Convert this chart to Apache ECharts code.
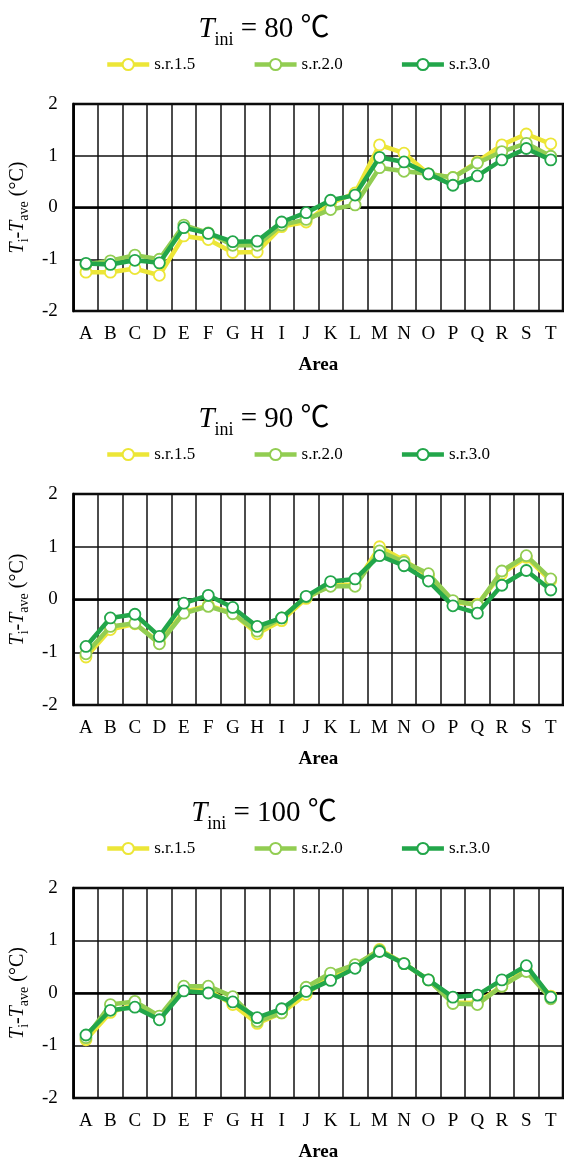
<!DOCTYPE html>
<html><head><meta charset="utf-8">
<script src="https://cdn.jsdelivr.net/npm/echarts@6/dist/echarts.min.js"></script>
<style>html,body{margin:0;padding:0;background:#fff}#c{width:564px;height:1163px}</style>
</head><body><div id="c"></div><script>
const categories = ['A','B','C','D','E','F','G','H','I','J','K','L','M','N','O','P','Q','R','S','T'];
const seriesNames = ['s.r.1.5', 's.r.2.0', 's.r.3.0'];
const tiniValues = ['80', '90', '100'];
const yMin = -2, yMax = 2, yStep = 1;

// T_ini = 80 ℃
const t80_sr15 = [-1.25,-1.25,-1.18,-1.31,-0.55,-0.62,-0.87,-0.86,-0.37,-0.28,0.08,0.28,1.21,1.05,0.65,0.58,0.88,1.21,1.42,1.23];
const t80_sr20 = [-1.10,-1.03,-0.92,-1.00,-0.34,-0.49,-0.73,-0.73,-0.34,-0.23,-0.04,0.05,0.77,0.70,0.65,0.58,0.86,1.08,1.24,0.99];
const t80_sr30 = [-1.08,-1.10,-1.02,-1.07,-0.39,-0.50,-0.66,-0.65,-0.28,-0.10,0.14,0.24,0.97,0.88,0.65,0.43,0.61,0.92,1.14,0.92];
// T_ini = 90 ℃
const t90_sr15 = [-1.09,-0.57,-0.46,-0.81,-0.24,-0.11,-0.26,-0.65,-0.40,0.02,0.28,0.28,1.00,0.74,0.45,-0.05,-0.09,0.49,0.80,0.36];
const t90_sr20 = [-1.03,-0.51,-0.45,-0.84,-0.26,-0.13,-0.27,-0.60,-0.35,0.05,0.25,0.25,0.92,0.71,0.49,-0.02,-0.11,0.54,0.83,0.39];
const t90_sr30 = [-0.89,-0.35,-0.28,-0.70,-0.07,0.08,-0.15,-0.51,-0.35,0.06,0.34,0.39,0.83,0.64,0.35,-0.12,-0.26,0.27,0.55,0.18];
// T_ini = 100 ℃
const t100_sr15 = [-0.89,-0.37,-0.22,-0.47,0.10,0.06,-0.22,-0.58,-0.38,-0.03,0.33,0.51,0.83,0.56,0.25,-0.18,-0.19,0.13,0.44,-0.06];
const t100_sr20 = [-0.85,-0.22,-0.16,-0.44,0.13,0.13,-0.07,-0.54,-0.38,0.11,0.38,0.54,0.81,0.56,0.25,-0.20,-0.22,0.13,0.41,-0.11];
const t100_sr30 = [-0.80,-0.33,-0.27,-0.51,0.04,0.00,-0.17,-0.47,-0.30,0.03,0.24,0.47,0.79,0.56,0.25,-0.08,-0.04,0.25,0.52,-0.08];

const dataSets = [
  [t80_sr15, t80_sr20, t80_sr30],
  [t90_sr15, t90_sr20, t90_sr30],
  [t100_sr15, t100_sr20, t100_sr30]
];

const colors = ['#ECE637', '#92CD52', '#22A64A'];
const FF = "'Liberation Serif', 'Times New Roman', 'Noto Sans CJK SC', serif";
const offsets = [0, 390, 784];
const gridLefts = [67, 62, 62];
const gridHeights = [207, 211, 211];

const title = [], legend = [], grid = [], xAxis = [], yAxis = [], series = [];
for (let i = 0; i < 3; i++) {
  const o = offsets[i];
  title.push({
    text: '{it|T}{sub|ini}{n| = ' + tiniValues[i] + ' ℃}',
    left: 264, top: o + 9, textAlign: 'center', padding: 0,
    textStyle: {
      fontWeight: 'normal',
      rich: {
        it: {fontSize: 29, fontStyle: 'italic', fontWeight: 'normal', fontFamily: FF, color: '#000', lineHeight: 40},
        sub: {fontSize: 18, fontWeight: 'normal', fontFamily: FF, color: '#000', lineHeight: 24, verticalAlign: 'bottom'},
        n: {fontSize: 29, fontWeight: 'normal', fontFamily: FF, color: '#000', lineHeight: 40}
      }
    }
  });
  legend.push({
    data: seriesNames, left: 105, top: o + 56, padding: 0,
    itemWidth: 42, itemHeight: 14, itemGap: 57,
    lineStyle: {width: 4.5},
    textStyle: {fontSize: 17, fontFamily: FF, color: '#000'},
    selectedMode: false
  });
  grid.push({
    left: gridLefts[i], right: 1, top: o + 104, height: gridHeights[i],
    show: true, borderColor: '#000', borderWidth: 2.5, containLabel: false
  });
  xAxis.push({
    type: 'category', gridIndex: i, data: categories, boundaryGap: true,
    axisLine: {show: true, lineStyle: {color: '#000', width: 2.5}},
    axisTick: {show: false},
    splitLine: {show: true, interval: 0, lineStyle: {color: '#111', width: 1.5}},
    axisLabel: {interval: 0, fontSize: 19, fontFamily: FF, color: '#000', margin: 14},
    name: 'Area', nameLocation: 'middle', nameGap: 45,
    nameTextStyle: {fontSize: 19, fontWeight: 'bold', fontFamily: FF, color: '#000'}
  });
  yAxis.push({
    type: 'value', gridIndex: i, min: yMin, max: yMax, interval: yStep,
    axisLine: {show: true, lineStyle: {color: '#000', width: 2.5}},
    axisTick: {show: false},
    splitLine: {show: true, lineStyle: {color: '#111', width: 1.5}},
    axisLabel: {fontSize: 19, fontFamily: FF, color: '#000', margin: 16},
    name: '{it|T}{sub|i}{n|-}{it|T}{sub|ave}{n| (°C)}',
    nameLocation: 'middle', nameRotate: 90, nameGap: 35,
    nameTextStyle: {
      rich: {
        it: {fontSize: 20, fontStyle: 'italic', fontFamily: FF, color: '#000', lineHeight: 26},
        sub: {fontSize: 14, fontFamily: FF, color: '#000', lineHeight: 12, verticalAlign: 'bottom'},
        n: {fontSize: 20, fontFamily: FF, color: '#000', lineHeight: 26}
      }
    }
  });
  for (let k = 0; k < 3; k++) {
    series.push({
      name: seriesNames[k], type: 'line', xAxisIndex: i, yAxisIndex: i,
      data: dataSets[i][k],
      symbol: 'circle', symbolSize: 11, showSymbol: true,
      lineStyle: {color: colors[k], width: 4.5},
      itemStyle: {color: '#fff', borderColor: colors[k], borderWidth: 1.8},
      z: 3 + k
    });
  }
}

const chart = echarts.init(document.getElementById('c'), null, {renderer: 'canvas'});
chart.setOption({animation: false, backgroundColor: '#fff', title, legend, grid, xAxis, yAxis, series});
</script></body></html>
